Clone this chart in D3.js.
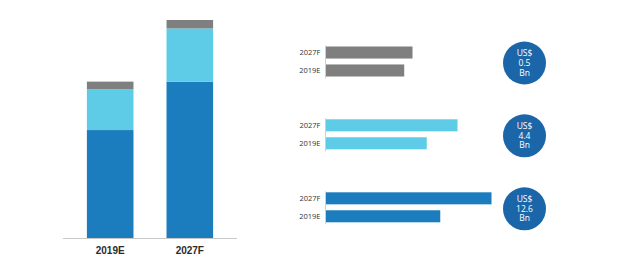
<!DOCTYPE html>
<html>
<head>
<meta charset="utf-8">
<script src="https://cdn.jsdelivr.net/npm/d3@7"></script>
<style>
  html, body { margin: 0; padding: 0; background: #fff; }
  svg { display: block; }
</style>
</head>
<body>
<div id="chart"></div>
<script>
// data (US$ Bn)
const years = ["2019E", "2027F"];
const darkValues = [27.1, 39.2];
const lightValues = [10.2, 13.3];
const grayValues = [1.9, 2.1];
const circleValues = ["0.5", "4.4", "12.6"];

const colors = { dark: "#1b7dbe", light: "#5ecbe7", gray: "#7f7f7f", circle: "#1a66a8" };

const width = 620, height = 264;
const svg = d3.select("#chart").append("svg")
    .attr("width", width)
    .attr("height", height);
svg.append("rect").attr("width", width).attr("height", height).attr("fill", "#fff");

// ---- left stacked column chart
const rows = years.map((y, i) => ({ year: y, dark: darkValues[i], light: lightValues[i], gray: grayValues[i] }));
const stack = d3.stack().keys(["dark", "light", "gray"])(rows);

const x = d3.scaleBand().domain(years).range([63, 237]).paddingInner(0.415).paddingOuter(0.3);
const y = d3.scaleLinear()
    .domain([0, d3.max(rows, d => d.dark + d.light + d.gray)])
    .range([238.5, 20]);

svg.append("g")
    .selectAll("g")
    .data(stack)
    .join("g")
    .attr("fill", d => colors[d.key])
    .selectAll("rect")
    .data(d => d)
    .join("rect")
    .attr("x", d => x(d.data.year))
    .attr("width", x.bandwidth())
    .attr("y", d => y(d[1]))
    .attr("height", d => y(d[0]) - y(d[1]));

svg.append("line")
    .attr("x1", 63).attr("x2", 237)
    .attr("y1", 238.5).attr("y2", 238.5)
    .attr("stroke", "#c8c8c8").attr("stroke-width", 1);

svg.append("g")
    .attr("font-family", "'Liberation Sans', Arial, sans-serif")
    .attr("font-size", 10)
    .attr("font-weight", 700)
    .attr("fill", "#2b2b2b")
    .attr("text-anchor", "middle")
    .selectAll("text")
    .data(years)
    .join("text")
    .attr("x", d => x(d) + x.bandwidth() / 2)
    .attr("y", 253.5)
    .text(d => d);

// ---- right horizontal bar groups (gray, light, dark)
const groups = [
    { key: "gray", values: grayValues, label: circleValues[0], top: 46.5, maxW: 87 },
    { key: "light", values: lightValues, label: circleValues[1], top: 119.3, maxW: 132 },
    { key: "dark", values: darkValues, label: circleValues[2], top: 192.3, maxW: 166 }
];
const order = ["2027F", "2019E"];
const axisX = 325.5;

groups.forEach(gr => {
    const vals = order.map(o => ({ year: o, value: gr.values[years.indexOf(o)] }));
    const by = d3.scaleBand().domain(order).range([gr.top, gr.top + 30]).paddingInner(0.33);
    const bx = d3.scaleLinear().domain([0, d3.max(vals, d => d.value)]).range([axisX, axisX + gr.maxW]);

    const g = svg.append("g");
    g.selectAll("rect")
        .data(vals)
        .join("rect")
        .attr("x", bx(0))
        .attr("y", d => by(d.year))
        .attr("width", d => bx(d.value) - bx(0))
        .attr("height", by.bandwidth())
        .attr("fill", colors[gr.key]);

    g.append("line")
        .attr("x1", axisX).attr("x2", axisX)
        .attr("y1", gr.top - 1).attr("y2", gr.top + 32)
        .attr("stroke", "#cfcfcf").attr("stroke-width", 1);

    g.selectAll("text.lab")
        .data(vals)
        .join("text")
        .attr("class", "lab")
        .attr("x", axisX - 5)
        .attr("y", d => by(d.year) + by.bandwidth() / 2)
        .attr("dy", "0.35em")
        .attr("text-anchor", "end")
        .attr("font-family", "'Open Sans', sans-serif")
        .attr("font-size", 7.5)
        .attr("fill", "#333")
        .text(d => d.year);

    // value bubble
    const cy = gr.top + 16.5;
    g.append("circle")
        .attr("cx", 524.5).attr("cy", cy).attr("r", 21.5)
        .attr("fill", colors.circle);
    g.append("text")
        .attr("x", 524.5).attr("y", cy - 9.5)
        .attr("text-anchor", "middle")
        .attr("font-family", "'Open Sans', sans-serif")
        .attr("font-size", 8.5)
        .attr("fill", "#fff")
        .selectAll("tspan")
        .data(["US$", gr.label, "Bn"])
        .join("tspan")
        .attr("x", 524.5)
        .attr("dy", (d, i) => i === 0 ? "0.35em" : "1.12em")
        .text(d => d);
});
</script>
</body>
</html>
